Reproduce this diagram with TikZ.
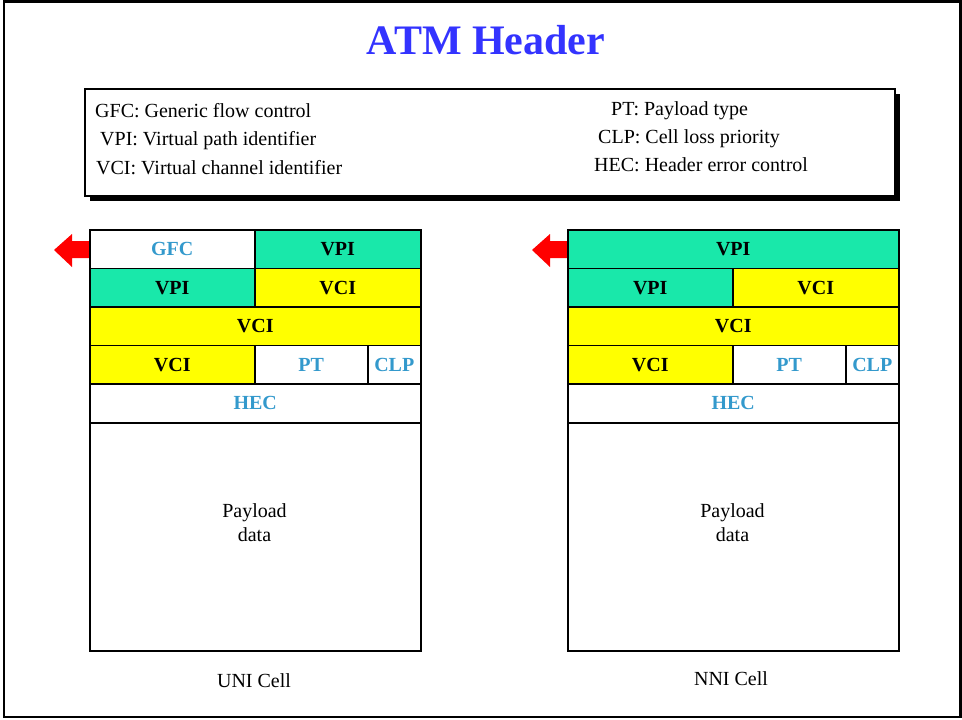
\documentclass[tikz,border=0pt]{standalone}
\usepackage{fontspec}
\setmainfont{Liberation Serif}
\usetikzlibrary{shadows}
\definecolor{vpigreen}{RGB}{25,232,170}
\definecolor{vciyellow}{RGB}{255,255,0}
\definecolor{labelblue}{RGB}{51,153,204}
\definecolor{titleblue}{RGB}{51,51,255}
\tikzset{
  field/.style={draw, line width=1.5pt, anchor=north west, inner sep=0pt,
    minimum height=38.6pt, font=\fontsize{20}{24}\selectfont\bfseries},
  plaintext/.style={inner sep=0pt, font=\fontsize{20}{24}\selectfont},
  legtext/.style={plaintext, anchor=base west}
}
\begin{document}
\begin{tikzpicture}[x=1pt, y=-1pt]
\useasboundingbox (0,0) rectangle (962,720);
\draw[line width=2.5pt] (4,1.5) rectangle (960.5,717);
\node[font=\fontsize{42}{48}\selectfont\bfseries, text=titleblue] (title) at (486,40) {ATM Header};
% legend box
\node[draw, line width=1.5pt, fill=white, anchor=north west, minimum width=810pt, minimum height=107pt,
  drop shadow={fill=black, opacity=1, shadow xshift=5pt, shadow yshift=-5pt}] (legend) at (84,88) {};
\node[legtext] (gfc) at (95,117) {GFC: Generic flow control};
\node[legtext] (vpi) at (100,145) {VPI: Virtual path identifier};
\node[legtext] (vci) at (96,174) {VCI: Virtual channel identifier};
\node[legtext] (pt) at (611,115) {PT: Payload type};
\node[legtext] (clp) at (598,143) {CLP: Cell loss priority};
\node[legtext] (hec) at (594,171) {HEC: Header error control};
% the two cells
\foreach \ox/\cell in {89/uni, 567/nni} {
  \fill[red] (\ox-35,250) -- (\ox-17,234) -- (\ox-17,241) -- (\ox,241) -- (\ox,258)
    -- (\ox-17,258) -- (\ox-17,267) -- cycle;
  \node[field, fill=vpigreen, minimum width=165pt] (\cell-vpi) at (\ox,267.6) {VPI};
  \node[field, fill=vciyellow, minimum width=166pt] (\cell-vci1) at (\ox+165,267.6) {VCI};
  \node[field, fill=vciyellow, minimum width=331pt] (\cell-vci2) at (\ox,306.2) {VCI};
  \node[field, fill=vciyellow, minimum width=165pt] (\cell-vci3) at (\ox,344.8) {VCI};
  \node[field, text=labelblue, minimum width=113pt] (\cell-pt) at (\ox+165,344.8) {PT};
  \node[field, text=labelblue, minimum width=53pt] (\cell-clp) at (\ox+278,344.8) {CLP};
  \node[field, text=labelblue, minimum width=331pt] (\cell-hec) at (\ox,383.4) {HEC};
  \node[field, minimum width=331pt, minimum height=228pt] (\cell-pay) at (\ox,422) {};
  \node[plaintext, align=center] (\cell-paytext) at (\ox+165.5,523) {Payload\\data};
}
% first header row differs
\node[field, text=labelblue, minimum width=165pt] (uni-gfc) at (89,229) {GFC};
\node[field, fill=vpigreen, minimum width=166pt] (uni-vpi0) at (254,229) {VPI};
\node[field, fill=vpigreen, minimum width=331pt] (nni-vpi0) at (567,229) {VPI};
\node[plaintext] (uni-name) at (254,681) {UNI Cell};
\node[plaintext] (nni-name) at (731,679) {NNI Cell};
\end{tikzpicture}
\end{document}
